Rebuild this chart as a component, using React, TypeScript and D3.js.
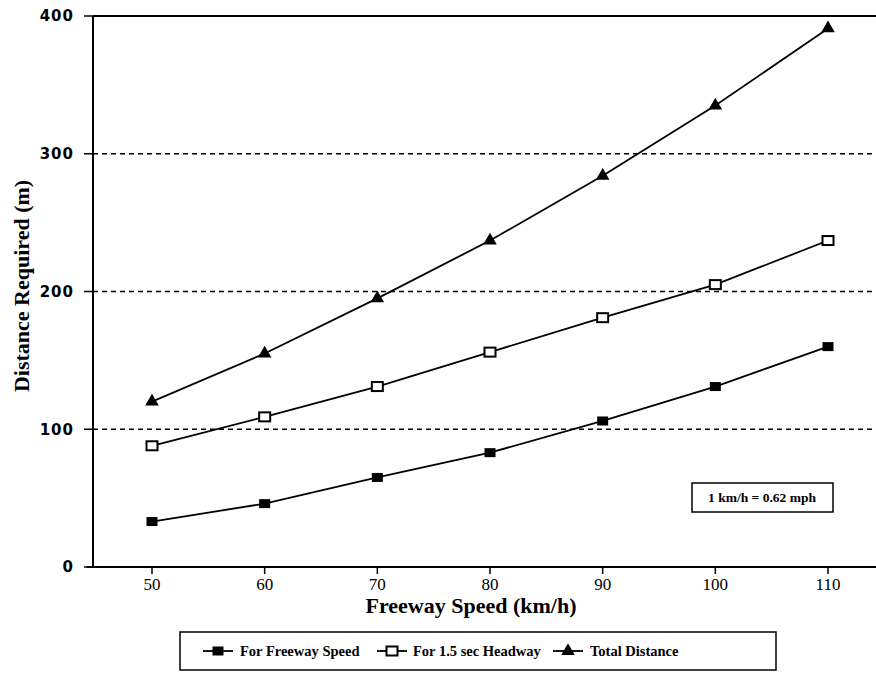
import * as d3 from "d3";

const speeds = [50, 60, 70, 80, 90, 100, 110];
const freewaySpeedDist = [33, 46, 65, 83, 106, 131, 160];
const headwayDist = [88, 109, 131, 156, 181, 205, 237];
const totalDist = [120, 155, 195, 237, 284, 335, 391];
const yTicks = [0, 100, 200, 300, 400];
const gridValues = [100, 200, 300];
const legendLabels = ["For Freeway Speed", "For 1.5 sec Headway", "Total Distance"];

const W = 876;
const H = 684;
const serif = "'Liberation Serif', 'Times New Roman', serif";
const sans = "'DejaVu Sans', Verdana, sans-serif";

type MarkerKind = "filled" | "open" | "triangle";

function Marker({ kind, x, y }: { kind: MarkerKind; x: number; y: number }) {
  if (kind === "triangle") {
    const tri = d3.symbol().type(d3.symbolTriangle).size(80)();
    return <path d={tri || ""} transform={`translate(${x},${y})`} fill="#000" />;
  }
  if (kind === "open") {
    return (
      <rect x={x - 5.5} y={y - 4.5} width={11} height={9} fill="#fff" stroke="#000" strokeWidth={2} />
    );
  }
  return <rect x={x - 5.5} y={y - 4.5} width={11} height={9} fill="#000" />;
}

export default function App() {
  const x = d3.scaleLinear().domain([50, 110]).range([152, 828]);
  const y = d3.scaleLinear().domain([0, 400]).range([567, 16]);
  const left = 93;
  const right = 876;

  const line = d3
    .line<number>()
    .x((_, i) => x(speeds[i]))
    .y((d) => y(d));

  const series: { values: number[]; kind: MarkerKind }[] = [
    { values: freewaySpeedDist, kind: "filled" },
    { values: headwayDist, kind: "open" },
    { values: totalDist, kind: "triangle" },
  ];

  // legend layout: sample line start and text start
  const legendItems = [
    { kind: "filled" as MarkerKind, lx: 203, tx: 240 },
    { kind: "open" as MarkerKind, lx: 377, tx: 413 },
    { kind: "triangle" as MarkerKind, lx: 553, tx: 590 },
  ];

  return (
    <svg
      width={W}
      height={H}
      style={{ position: "absolute", left: 0, top: 0, background: "#fff" }}
    >
      {/* dashed grid */}
      {gridValues.map((v) => (
        <line
          key={v}
          x1={left}
          x2={right}
          y1={y(v)}
          y2={y(v)}
          stroke="#000"
          strokeWidth={1.6}
          strokeDasharray="5,4"
        />
      ))}

      {/* frame */}
      <line x1={left} x2={right} y1={y(400)} y2={y(400)} stroke="#000" strokeWidth={2} />
      <line x1={left} x2={left} y1={y(400)} y2={y(0)} stroke="#000" strokeWidth={2} />
      <line x1={87} x2={right} y1={y(0)} y2={y(0)} stroke="#000" strokeWidth={2} />

      {/* y ticks */}
      {yTicks.map((t) => (
        <g key={t}>
          <line x1={84} x2={left} y1={y(t)} y2={y(t)} stroke="#000" strokeWidth={1.5} />
          <text
            x={74}
            y={y(t)}
            dy="0.36em"
            textAnchor="end"
            fontFamily={sans}
            fontSize={15}
            fontWeight="bold"
            letterSpacing={1}
          >
            {t}
          </text>
        </g>
      ))}

      {/* x ticks */}
      {speeds.map((s) => (
        <g key={s}>
          <line x1={x(s)} x2={x(s)} y1={y(0)} y2={y(0) + 7} stroke="#000" strokeWidth={1.5} />
          <text
            x={x(s)}
            y={590}
            textAnchor="middle"
            fontFamily={serif}
            fontSize={17}
          >
            {s}
          </text>
        </g>
      ))}

      {/* axis titles */}
      <text
        x={471}
        y={600}
        dy="0.6em"
        textAnchor="middle"
        fontFamily={serif}
        fontSize={22}
        fontWeight="bold"
      >
        Freeway Speed (km/h)
      </text>
      <text
        transform={`translate(29,${286}) rotate(-90)`}
        textAnchor="middle"
        fontFamily={serif}
        fontSize={22}
        fontWeight="bold"
      >
        Distance Required (m)
      </text>

      {/* series */}
      {series.map((s, si) => (
        <g key={si}>
          <path d={line(s.values) || ""} fill="none" stroke="#000" strokeWidth={1.8} />
          {s.values.map((v, i) => (
            <Marker key={i} kind={s.kind} x={x(speeds[i])} y={y(v)} />
          ))}
        </g>
      ))}

      {/* conversion note */}
      <rect x={692} y={483} width={141} height={29} fill="#fff" stroke="#000" strokeWidth={1.5} />
      <text
        x={762}
        y={502}
        textAnchor="middle"
        fontFamily={serif}
        fontSize={13.5}
        fontWeight="bold"
      >
        1 km/h = 0.62 mph
      </text>

      {/* legend */}
      <rect x={180} y={632} width={596} height={38} fill="#fff" stroke="#000" strokeWidth={1.5} />
      {legendItems.map((it, i) => (
        <g key={i}>
          <line x1={it.lx} x2={it.lx + 30} y1={651} y2={651} stroke="#000" strokeWidth={1.8} />
          <Marker kind={it.kind} x={it.lx + 15} y={651} />
          <text x={it.tx} y={656} fontFamily={serif} fontSize={14.5} fontWeight="bold">
            {legendLabels[i]}
          </text>
        </g>
      ))}
    </svg>
  );
}
